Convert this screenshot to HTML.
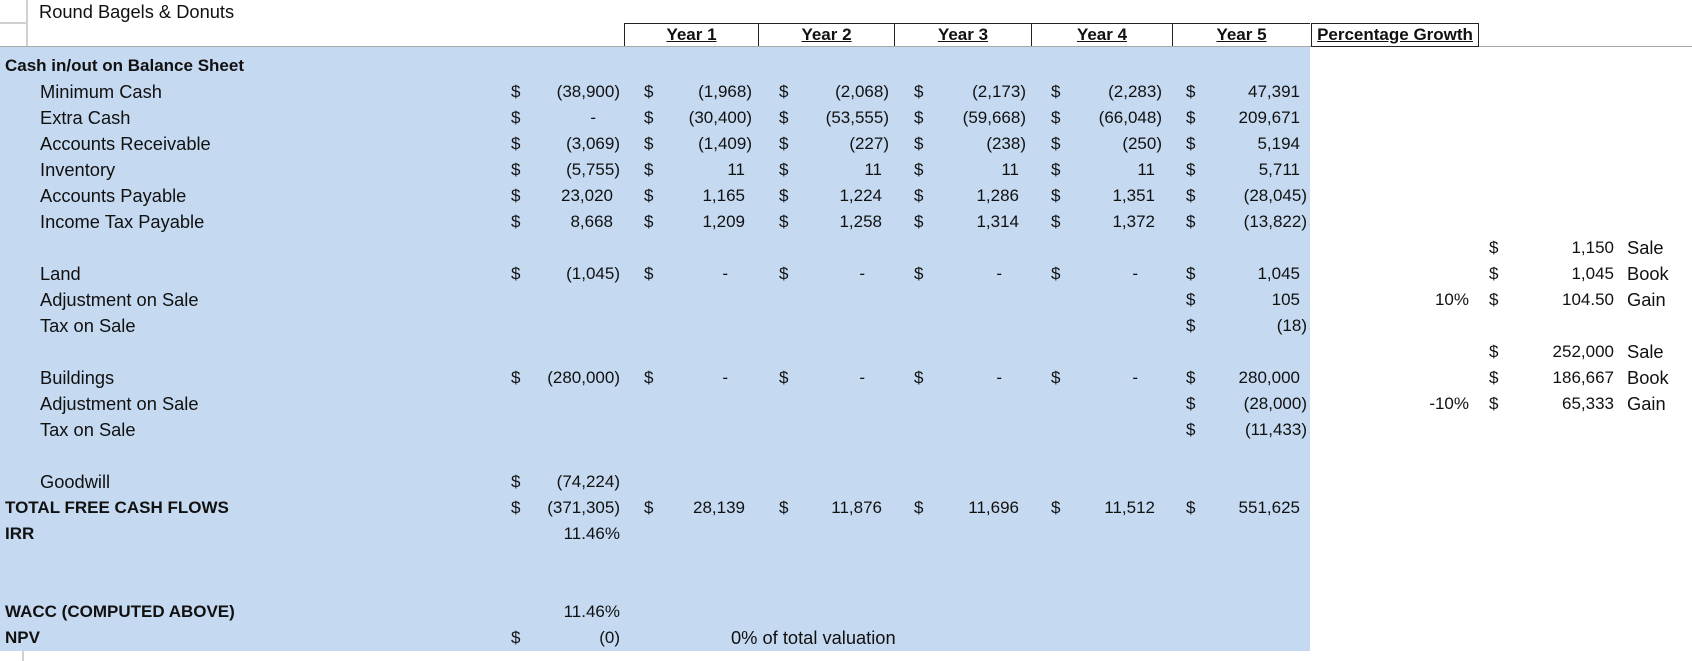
<!DOCTYPE html>
<html><head><meta charset="utf-8">
<style>
html,body{margin:0;padding:0;background:#fff;}
#sheet{position:relative;width:1692px;height:661px;overflow:hidden;font-family:"Liberation Sans",sans-serif;font-size:17px;color:#111;}
.t{position:absolute;white-space:nowrap;line-height:20px;}
.r{text-align:right;}
.b{font-weight:bold;font-size:17px;}
.lbl{font-size:18.3px;}
.box{position:absolute;top:23px;height:23px;border:1px solid #222;border-bottom:none;box-sizing:border-box;text-align:center;font-weight:bold;text-decoration:underline;line-height:22px;font-size:17px;}
</style></head>
<body>
<div id="sheet">
  <div style="position:absolute;left:0;top:47px;width:1310px;height:604px;background:#c5d9f1;"></div>
  <div style="position:absolute;left:0;top:46px;width:1692px;height:1px;background:#a8a8a8;"></div>
  <div style="position:absolute;left:26px;top:0;width:2px;height:46px;background:#d0d0d0;"></div>
  <div style="position:absolute;left:0;top:22px;width:26px;height:2px;background:#d0d0d0;"></div>
  <div style="position:absolute;left:22px;top:651px;width:2px;height:10px;background:#d0d0d0;"></div>
  <div class="t lbl" style="left:39px;top:2px;">Round Bagels &amp; Donuts</div>
  <div class="box" style="left:624px;width:135px;">Year 1</div>
  <div class="box" style="left:759px;width:136px;border-left:none;">Year 2</div>
  <div class="box" style="left:895px;width:137px;border-left:none;">Year 3</div>
  <div class="box" style="left:1032px;width:141px;border-left:none;">Year 4</div>
  <div class="box" style="left:1173px;width:137px;border-left:none;border-right:none;">Year 5</div>
  <div class="box" style="left:1311px;width:168px;height:24px;border-bottom:1px solid #222;">Percentage Growth</div>
</div>
<script>
// rows: [rowIndex, label, bold, indent]
const labels = [
 [3,"Cash in/out on Balance Sheet",1,0],[4,"Minimum Cash",0,1],[5,"Extra Cash",0,1],
 [6,"Accounts Receivable",0,1],[7,"Inventory",0,1],[8,"Accounts Payable",0,1],
 [9,"Income Tax Payable",0,1],[11,"Land",0,1],[12,"Adjustment on Sale",0,1],
 [13,"Tax on Sale",0,1],[15,"Buildings",0,1],[16,"Adjustment on Sale",0,1],
 [17,"Tax on Sale",0,1],[19,"Goodwill",0,1],[20,"TOTAL FREE CASH FLOWS",1,0],
 [21,"IRR",1,0],[24,"WACC (COMPUTED ABOVE)",1,0],[25,"NPV",1,0]
];
const values = [
 [4,"(38,900)","(1,968)","(2,068)","(2,173)","(2,283)","47,391"],
 [5,"-","(30,400)","(53,555)","(59,668)","(66,048)","209,671"],
 [6,"(3,069)","(1,409)","(227)","(238)","(250)","5,194"],
 [7,"(5,755)","11","11","11","11","5,711"],
 [8,"23,020","1,165","1,224","1,286","1,351","(28,045)"],
 [9,"8,668","1,209","1,258","1,314","1,372","(13,822)"],
 [11,"(1,045)","-","-","-","-","1,045"],
 [12,null,null,null,null,null,"105"],
 [13,null,null,null,null,null,"(18)"],
 [15,"(280,000)","-","-","-","-","280,000"],
 [16,null,null,null,null,null,"(28,000)"],
 [17,null,null,null,null,null,"(11,433)"],
 [19,"(74,224)",null,null,null,null,null],
 [20,"(371,305)","28,139","11,876","11,696","11,512","551,625"],
 [25,"(0)",null,null,null,null,null]
];
const plainValues = [[21,"11.46%"],[24,"11.46%"]];
const sideRows = [[10,"","1,150","Sale"],[11,"","1,045","Book"],[12,"10%","104.50","Gain"],
 [14,"","252,000","Sale"],[15,"","186,667","Book"],[16,"-10%","65,333","Gain"]];
const colDollar = [511,644,779,914,1051,1186];
const colRight = [620,752,889,1026,1162,1307];
const sheet = document.getElementById('sheet');
function rowY(r){return 56 + (r-3)*26;}
function add(txt,x,y,cls,right,name){
  const d=document.createElement('div');
  d.className='t '+(cls||'');
  d.textContent=txt;
  if(right){d.style.right=(1692-x)+'px';} else {d.style.left=x+'px';}
  d.style.top=y+'px';
  
  
  sheet.appendChild(d);
}
labels.forEach(l=>{
  add(l[1], l[3]?40:5, rowY(l[0]), l[2]?'b':'lbl', false, 'row-label');
});
values.forEach(v=>{
  const y=rowY(v[0]);
  for(let c=0;c<6;c++){
    const s=v[c+1]; if(s===null) continue;
    add('$', colDollar[c], y, '', false, 'dollar-sign');
    let rx=colRight[c];
    if(s==='-') rx-=24; else if(s[s.length-1]!==')') rx-=7;
    add(s, rx, y, 'r', true, 'cell-value');
  }
});
plainValues.forEach(p=>add(p[1], colRight[0], rowY(p[0]), 'r', true, 'percent-value'));
add('0% of total valuation', 731, rowY(25), 'lbl', false, 'npv-note');
sideRows.forEach(s=>{
  const y=rowY(s[0]);
  if(s[1]) add(s[1], 1469, y, 'r', true, 'side-percent');
  add('$', 1489, y, '', false, 'side-dollar');
  add(s[2], 1614, y, 'r', true, 'side-value');
  add(s[3], 1627, y, 'lbl', false, 'side-label');
});
</script>
</body></html>
